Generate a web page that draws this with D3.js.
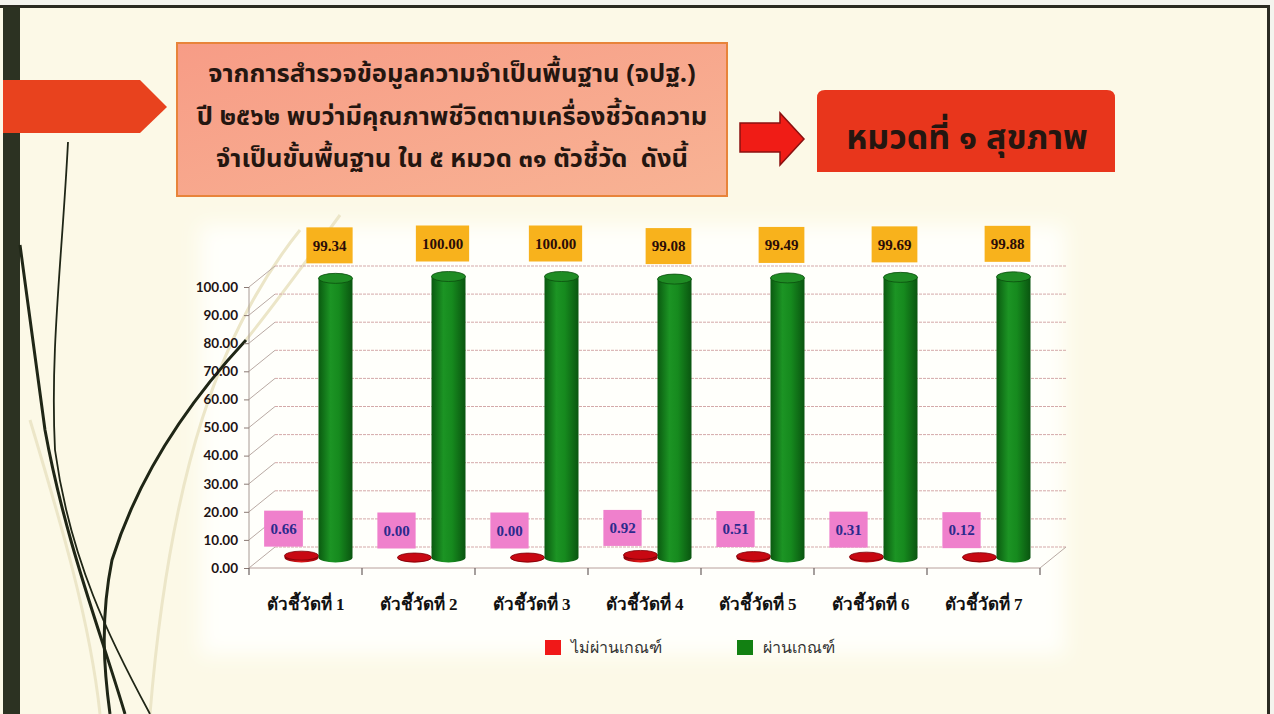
<!DOCTYPE html>
<html>
<head>
<meta charset="UTF-8">
<title>หมวดที่ ๑ สุขภาพ</title>
<script src="https://cdn.jsdelivr.net/npm/d3@7/dist/d3.min.js"></script>
<style>
  html, body { margin: 0; padding: 0; background: #fcf9e7; }
  svg { display: block; }
  .ylab { font-family: Lato, "Noto Sans", sans-serif; font-weight: 700; font-size: 13.5px; fill: #1e1414; }
  .xlab { font-family: "Liberation Serif", "Noto Serif", serif; font-weight: 700; font-size: 17px; fill: #111; }
  .vlab { font-family: "Liberation Serif", serif; font-weight: 700; font-size: 15px; }
  .legend { font-family: "Liberation Serif", "Noto Sans", sans-serif; font-size: 16px; fill: #333; }
  .head { font-family: "Noto Sans Thai", "Noto Sans", "DejaVu Sans", sans-serif; font-weight: 700; fill: #241610; white-space: pre; }
</style>
</head>
<body>
<div id="chart"></div>
<script>
// data
var categories = ['ตัวชี้วัดที่ 1', 'ตัวชี้วัดที่ 2', 'ตัวชี้วัดที่ 3', 'ตัวชี้วัดที่ 4', 'ตัวชี้วัดที่ 5', 'ตัวชี้วัดที่ 6', 'ตัวชี้วัดที่ 7'];
var failValues = [0.66, 0.00, 0.00, 0.92, 0.51, 0.31, 0.12];
var passValues = [99.34, 100.00, 100.00, 99.08, 99.49, 99.69, 99.88];
var yTicks = [0, 10, 20, 30, 40, 50, 60, 70, 80, 90, 100];
var seriesNames = ['ไม่ผ่านเกณฑ์', 'ผ่านเกณฑ์'];
var titleLines = ['จากการสำรวจข้อมูลความจำเป็นพื้นฐาน (จปฐ.)', 'ปี ๒๕๖๒ พบว่ามีคุณภาพชีวิตตามเครื่องชี้วัดความ', 'จำเป็นขั้นพื้นฐาน ใน ๕ หมวด ๓๑ ตัวชี้วัด  ดังนี้'];
var sectionTitle = 'หมวดที่ ๑ สุขภาพ';

var W = 1274, H = 714;
var svg = d3.select('#chart').append('svg').attr('width', W).attr('height', H);
var defs = svg.append('defs');

svg.append('rect').attr('width', W).attr('height', H).attr('fill', '#fcf9e7');

// soft white area behind the chart
defs.append('filter').attr('id', 'soft').attr('x', '-10%').attr('y', '-10%').attr('width', '120%').attr('height', '120%')
  .append('feGaussianBlur').attr('stdDeviation', 10);
svg.append('rect').attr('x', 200).attr('y', 225).attr('width', 865).attr('height', 430)
  .attr('fill', '#fffffb').attr('filter', 'url(#soft)');

// ---- slide decoration ----
var deco = svg.append('g');
deco.append('rect').attr('x', 0).attr('y', 0).attr('width', W).attr('height', 5).attr('fill', '#f4f4ee');
deco.append('rect').attr('x', 0).attr('y', 5).attr('width', W).attr('height', 3).attr('fill', '#2b2b22');
deco.append('rect').attr('x', 1267).attr('y', 5).attr('width', 3).attr('height', H).attr('fill', '#2b2b22');
deco.append('rect').attr('x', 1270).attr('y', 0).attr('width', 4).attr('height', H).attr('fill', '#f4f4ee');
deco.append('rect').attr('x', 3).attr('y', 7).attr('width', 17).attr('height', H).attr('fill', '#2c3222');

var curves = [
  'M68,142 C62,260 50,350 55,450 C70,560 110,640 150,714',
  'M20,245 C30,320 38,380 45,430 C65,540 100,630 125,714',
  'M246,340 C195,395 140,470 112,560 C100,620 104,670 110,714'
];
deco.selectAll('path.faint').data(['M300,230 C220,330 170,470 150,714', 'M30,420 C60,520 90,620 100,714', 'M340,215 C300,270 270,310 246,340'])
  .enter().append('path').attr('d', function(d) { return d; })
  .attr('fill', 'none').attr('stroke', '#ece6c8').attr('stroke-width', 3);
deco.selectAll('path.dark').data(curves).enter().append('path')
  .attr('d', function(d) { return d; })
  .attr('fill', 'none').attr('stroke', '#1f2616')
  .attr('stroke-width', function(d, i) { return i === 0 ? 1.8 : 3; });

// red tag at the left
deco.append('path')
  .attr('d', d3.line()([[3, 80], [140, 80], [167, 107], [140, 133], [3, 133]]) + 'Z')
  .attr('fill', '#e8421e');

// ---- title box ----
var tg = defs.append('linearGradient').attr('id', 'titleGrad').attr('x1', 0).attr('y1', 0).attr('x2', 1).attr('y2', 1);
tg.append('stop').attr('offset', '0%').attr('stop-color', '#f79c86');
tg.append('stop').attr('offset', '100%').attr('stop-color', '#f8b394');
svg.append('rect').attr('x', 177).attr('y', 43).attr('width', 550).attr('height', 153)
  .attr('fill', 'url(#titleGrad)').attr('stroke', '#e8843a').attr('stroke-width', 2);
svg.selectAll('text.title').data(titleLines).enter().append('text')
  .attr('class', 'head').attr('x', 452)
  .attr('y', function(d, i) { return 82 + i * 42.5; })
  .attr('text-anchor', 'middle').attr('font-size', 25.5)
  .text(function(d) { return d; });

// arrow and section box
svg.append('path')
  .attr('d', d3.line()([[740, 123], [780, 123], [780, 113], [804, 139], [780, 165], [780, 152], [740, 152]]) + 'Z')
  .attr('fill', '#f01c16').attr('stroke', '#8a1010').attr('stroke-width', 1.5);
svg.append('path')
  .attr('d', 'M817,172 L817,98 Q817,90 825,90 L1107,90 Q1115,90 1115,98 L1115,172 Z')
  .attr('fill', '#e8361c');
svg.append('text').attr('class', 'head').attr('x', 967).attr('y', 149)
  .attr('text-anchor', 'middle').attr('font-size', 34).attr('fill', '#1c0e0a')
  .text(sectionTitle);

// ---- chart ----
var x0 = 249, x1 = 1040, dx = 26, dy = -21;
var x = d3.scaleBand().domain(categories).range([x0, x1]);
var y = d3.scaleLinear().domain([0, 100]).range([568, 287]);
var g = svg.append('g');

// walls and gridlines
g.selectAll('line.grid').data(yTicks).enter().append('line')
  .attr('x1', x0 + dx).attr('x2', x1 + dx)
  .attr('y1', function(d) { return y(d) + dy; }).attr('y2', function(d) { return y(d) + dy; })
  .attr('stroke', '#d4a9a9').attr('stroke-width', 1).attr('stroke-dasharray', '3,1');
g.selectAll('line.side').data(yTicks).enter().append('line')
  .attr('x1', x0).attr('x2', x0 + dx)
  .attr('y1', function(d) { return y(d); }).attr('y2', function(d) { return y(d) + dy; })
  .attr('stroke', '#b9aaa4').attr('stroke-width', 1);
g.append('line').attr('x1', x0).attr('x2', x0).attr('y1', y(0)).attr('y2', y(100))
  .attr('stroke', '#a89a94');
g.append('line').attr('x1', x0).attr('x2', x1).attr('y1', y(0)).attr('y2', y(0))
  .attr('stroke', '#b8a09c');
g.append('line').attr('x1', x1).attr('x2', x1 + dx).attr('y1', y(0)).attr('y2', y(0) + dy)
  .attr('stroke', '#b8aaa4');

// y axis via d3 axis
var yAxis = d3.axisLeft(y).tickValues(yTicks).tickFormat(d3.format('.2f')).tickSize(5).tickPadding(6);
var ya = g.append('g').attr('transform', 'translate(' + x0 + ',0)').call(yAxis);
ya.select('.domain').remove();
ya.selectAll('.tick line').attr('stroke', '#8a7a74');
ya.selectAll('.tick text').attr('class', 'ylab').attr('fill', null).attr('font-family', null).attr('font-size', null);

// x axis
var xAxis = d3.axisBottom(x).tickSize(0).tickPadding(30);
var xa = g.append('g').attr('transform', 'translate(0,' + y(0) + ')').call(xAxis);
xa.select('.domain').remove();
xa.selectAll('.tick text').attr('class', 'xlab').attr('fill', null).attr('font-family', null).attr('font-size', null);
g.selectAll('line.xtick').data(categories.concat(['end'])).enter().append('line')
  .attr('x1', function(d, i) { return x0 + i * x.bandwidth(); })
  .attr('x2', function(d, i) { return x0 + i * x.bandwidth(); })
  .attr('y1', y(0)).attr('y2', y(0) + 7)
  .attr('stroke', '#6a6060').attr('stroke-width', 1.2);

// cylinders
function gradient(id, stops) {
  var lg = defs.append('linearGradient').attr('id', id).attr('x1', 0).attr('x2', 1).attr('y1', 0).attr('y2', 0);
  stops.forEach(function(s) { lg.append('stop').attr('offset', s[0]).attr('stop-color', s[1]); });
}
gradient('greenBody', [['0%', '#0a5a10'], ['35%', '#1c9424'], ['60%', '#168a1e'], ['100%', '#0a5510']]);
gradient('redBody', [['0%', '#8a0008'], ['45%', '#e01818'], ['100%', '#9a0008']]);

var rx = 17, ry = 5;
function cylPath(cx, yb, yt) {
  return 'M' + (cx - rx) + ',' + yb + ' L' + (cx - rx) + ',' + yt +
    ' L' + (cx + rx) + ',' + yt + ' L' + (cx + rx) + ',' + yb +
    ' A' + rx + ',' + ry + ' 0 0 1 ' + (cx - rx) + ',' + yb + ' Z';
}
function cx(cat, k) { return x(cat) + x.bandwidth() / 2 + dx / 2 + (k === 0 ? -17 : 17); }
var yb = y(0) + dy / 2;

var series = [
  { vals: failValues, body: 'url(#redBody)', top: '#c80812', rim: '#7a0006' },
  { vals: passValues, body: 'url(#greenBody)', top: '#1f8c24', rim: '#0b4e0e' }
];
series.forEach(function(s, k) {
  var sg = g.append('g');
  sg.selectAll('path').data(categories).enter().append('path')
    .attr('d', function(d, i) { return cylPath(cx(d, k), yb, y(s.vals[i]) + dy / 2); })
    .attr('fill', s.body);
  sg.selectAll('ellipse').data(categories).enter().append('ellipse')
    .attr('cx', function(d) { return cx(d, k); })
    .attr('cy', function(d, i) { return y(s.vals[i]) + dy / 2; })
    .attr('rx', rx).attr('ry', k === 0 ? 4.5 : ry)
    .attr('fill', s.top).attr('stroke', s.rim).attr('stroke-width', 0.8);
});

// value labels
function labels(vals, k, fill, color, off, shift) {
  var lg = g.append('g');
  var items = lg.selectAll('g').data(categories).enter().append('g')
    .attr('transform', function(d, i) {
      return 'translate(' + (cx(d, k) + shift) + ',' + (y(vals[i]) + dy / 2 - off) + ')';
    });
  items.append('rect').attr('class', 'box').attr('fill', fill);
  items.append('text').attr('class', 'vlab').attr('text-anchor', 'middle').attr('dy', '0.35em')
    .attr('fill', color).text(function(d, i) { return d3.format('.2f')(vals[i]); });
  items.each(function() {
    var t = d3.select(this).select('text').node().getBBox();
    d3.select(this).select('rect')
      .attr('x', -t.width / 2 - 6).attr('y', -18).attr('width', t.width + 12).attr('height', 36);
  });
}
labels(passValues, 1, '#f8b21c', '#2a0c08', 33, -6);
labels(failValues, 0, '#ef80cc', '#2c2a8c', 27, -18);

// legend
var colors = ['#f01818', '#128012'];
var lx = [545, 737];
var leg = svg.append('g');
leg.selectAll('rect').data(seriesNames).enter().append('rect')
  .attr('x', function(d, i) { return lx[i]; }).attr('y', 640)
  .attr('width', 16).attr('height', 15).attr('fill', function(d, i) { return colors[i]; });
leg.selectAll('text').data(seriesNames).enter().append('text')
  .attr('class', 'legend').attr('x', function(d, i) { return lx[i] + 26; }).attr('y', 653)
  .text(function(d) { return d; });
</script>
</body>
</html>
